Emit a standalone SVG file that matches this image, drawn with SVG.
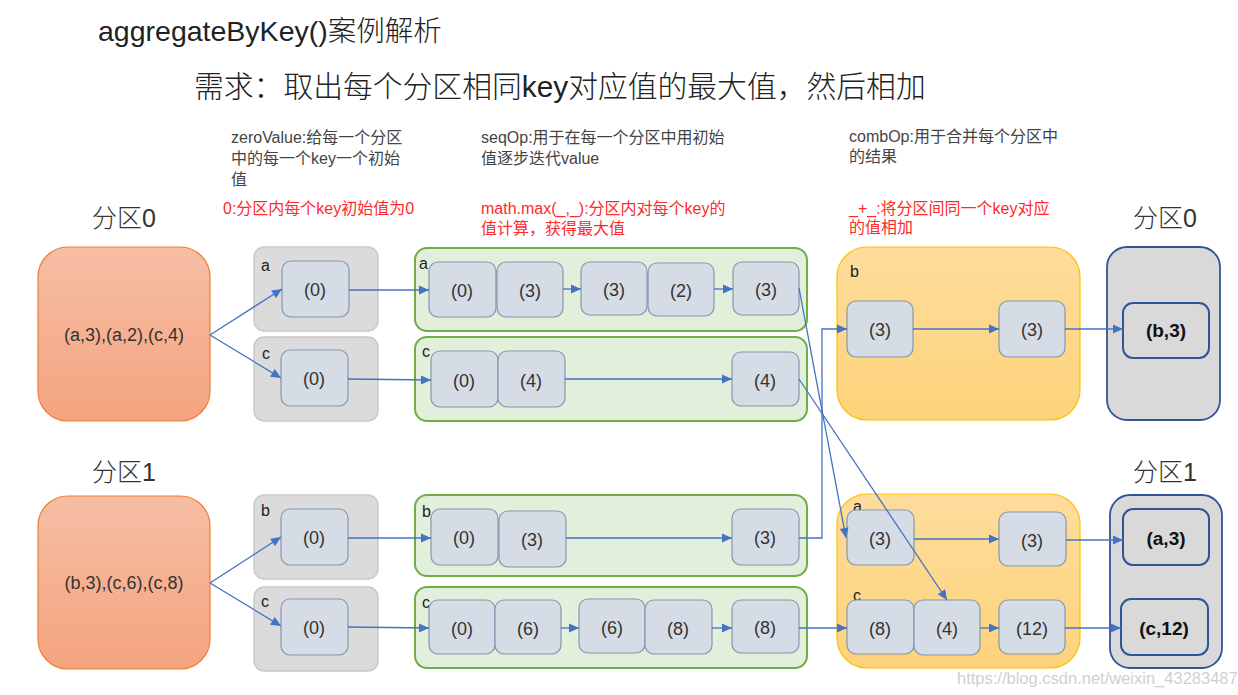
<svg xmlns="http://www.w3.org/2000/svg" width="1238" height="695" viewBox="0 0 1238 695">
<defs>
<linearGradient id="og" x1="0" y1="0" x2="0" y2="1"><stop offset="0" stop-color="#f6bea4"/><stop offset="1" stop-color="#f4a47f"/></linearGradient>
<linearGradient id="yg" x1="0" y1="0" x2="0" y2="1"><stop offset="0" stop-color="#fedc9c"/><stop offset="1" stop-color="#fdd37a"/></linearGradient>
<marker id="ah" viewBox="0 0 10 10" refX="10" refY="5" markerWidth="11" markerHeight="10" markerUnits="userSpaceOnUse" orient="auto"><path d="M0,0.5 L10,5 L0,9.5 z" fill="#4472c4"/></marker>
<style>
text{font-family:"Liberation Sans","Noto Sans CJK SC",sans-serif;}
.t{font-size:28.5px;fill:#222;font-weight:300}
.st{font-size:29.8px;fill:#222;font-weight:300}
.an{font-size:16px;fill:#444}
.red{font-size:16px;fill:#ff2a2a}
.part{font-size:25px;fill:#333;font-weight:300}
.src{fill:url(#og);stroke:#ed7d31;stroke-width:1.2}
.gray{fill:#dbdbdb;stroke:#c9c9c9;stroke-width:1.5}
.green{fill:#e2efda;stroke:#70ad47;stroke-width:2}
.yel{fill:url(#yg);stroke:#ffc000;stroke-width:1.2}
.res{fill:#d9d9d9;stroke:#2f5597;stroke-width:1.8}
.n{fill:#d6dce5;stroke:#8497b0;stroke-width:1.2}
.rn{fill:#d9d9d9;stroke:#2f5597;stroke-width:2}
.v{font-size:18px;fill:#333;text-anchor:middle;dominant-baseline:central}
.vb{font-size:19px;fill:#111;font-weight:bold;text-anchor:middle;dominant-baseline:central}
.k{font-size:16px;fill:#222}
.c{fill:none;stroke:#4472c4;stroke-width:1.3;marker-end:url(#ah)}
.wm{font-size:16.5px;fill:#d0d0d0}
</style>
</defs>
<rect width="1238" height="695" fill="#fff"/>

<g id="titles">
<text class="t" x="98" y="41">aggregateByKey()案例解析</text>
<text class="st" x="194" y="97">需求：取出每个分区相同key对应值的最大值，然后相加</text>
<text class="an" x="231" y="143">zeroValue:给每一个分区</text>
<text class="an" x="231" y="164">中的每一个key一个初始</text>
<text class="an" x="231" y="185">值</text>
<text class="an" x="481" y="143">seqOp:用于在每一个分区中用初始</text>
<text class="an" x="481" y="164">值逐步迭代value</text>
<text class="an" x="849" y="142">combOp:用于合并每个分区中</text>
<text class="an" x="849" y="162">的结果</text>
<text class="red" x="223" y="214">0:分区内每个key初始值为0</text>
<text class="red" x="481" y="214">math.max(_,_):分区内对每个key的</text>
<text class="red" x="481" y="234">值计算，获得最大值</text>
<text class="red" x="849" y="214">_+_:将分区间同一个key对应</text>
<text class="red" x="849" y="233">的值相加</text>
<text class="part" x="92" y="227">分区0</text>
<text class="part" x="1133" y="227">分区0</text>
<text class="part" x="92" y="481">分区1</text>
<text class="part" x="1133" y="481">分区1</text>
</g>

<g id="p0-source"><rect class="src" x="38" y="247" width="172" height="174" rx="30"/><text class="v" x="124" y="335">(a,3),(a,2),(c,4)</text></g>
<g id="p1-source"><rect class="src" x="38" y="496" width="172" height="173" rx="30"/><text class="v" x="124" y="583">(b,3),(c,6),(c,8)</text></g>

<g id="p0-zero-a"><rect class="gray" x="254" y="247" width="124" height="84" rx="10"/><text class="k" x="261" y="271">a</text>
<rect class="n" x="282" y="261" width="67" height="56" rx="9"/><text class="v" x="315" y="290">(0)</text></g>
<g id="p0-zero-c"><rect class="gray" x="254" y="337" width="124" height="84" rx="10"/><text class="k" x="262" y="359">c</text>
<rect class="n" x="281" y="350" width="67" height="56" rx="9"/><text class="v" x="314" y="379">(0)</text></g>
<g id="p1-zero-b"><rect class="gray" x="254" y="495" width="124" height="84" rx="10"/><text class="k" x="261" y="516">b</text>
<rect class="n" x="281" y="509" width="67" height="56" rx="9"/><text class="v" x="314" y="538">(0)</text></g>
<g id="p1-zero-c"><rect class="gray" x="254" y="587" width="124" height="84" rx="10"/><text class="k" x="261" y="607">c</text>
<rect class="n" x="281" y="599" width="67" height="56" rx="9"/><text class="v" x="314" y="628">(0)</text></g>

<g id="p0-seq-a"><rect class="green" x="415" y="248" width="392" height="83" rx="12"/><text class="k" x="419" y="269">a</text>
<rect class="n" x="429" y="262" width="67" height="55" rx="9"/><text class="v" x="462" y="291">(0)</text>
<rect class="n" x="497" y="262" width="66" height="55" rx="9"/><text class="v" x="530" y="291">(3)</text>
<rect class="n" x="581" y="262" width="66" height="53" rx="9"/><text class="v" x="614" y="290">(3)</text>
<rect class="n" x="648" y="263" width="66" height="53" rx="9"/><text class="v" x="681" y="291">(2)</text>
<rect class="n" x="733" y="262" width="66" height="53" rx="9"/><text class="v" x="766" y="290">(3)</text></g>
<g id="p0-seq-c"><rect class="green" x="415" y="337" width="392" height="84" rx="12"/><text class="k" x="422" y="357">c</text>
<rect class="n" x="431" y="351" width="67" height="56" rx="9"/><text class="v" x="464" y="381">(0)</text>
<rect class="n" x="498" y="351" width="67" height="56" rx="9"/><text class="v" x="531" y="381">(4)</text>
<rect class="n" x="732" y="352" width="67" height="54" rx="9"/><text class="v" x="765" y="381">(4)</text></g>
<g id="p1-seq-b"><rect class="green" x="415" y="495" width="392" height="81" rx="12"/><text class="k" x="422" y="517">b</text>
<rect class="n" x="431" y="509" width="67" height="56" rx="9"/><text class="v" x="464" y="538">(0)</text>
<rect class="n" x="499" y="511" width="67" height="56" rx="9"/><text class="v" x="532" y="540">(3)</text>
<rect class="n" x="732" y="509" width="67" height="56" rx="9"/><text class="v" x="765" y="538">(3)</text></g>
<g id="p1-seq-c"><rect class="green" x="415" y="587" width="392" height="81" rx="12"/><text class="k" x="422" y="608">c</text>
<rect class="n" x="429" y="600" width="66" height="54" rx="9"/><text class="v" x="462" y="629">(0)</text>
<rect class="n" x="495" y="600" width="66" height="54" rx="9"/><text class="v" x="528" y="629">(6)</text>
<rect class="n" x="579" y="599" width="66" height="54" rx="9"/><text class="v" x="612" y="628">(6)</text>
<rect class="n" x="645" y="600" width="67" height="54" rx="9"/><text class="v" x="678" y="629">(8)</text>
<rect class="n" x="732" y="600" width="67" height="53" rx="9"/><text class="v" x="765" y="628">(8)</text></g>

<g id="comb-b"><rect class="yel" x="837" y="247" width="243" height="173" rx="30"/><text class="k" x="850" y="277">b</text>
<rect class="n" x="847" y="301" width="66" height="56" rx="9"/><text class="v" x="880" y="330">(3)</text>
<rect class="n" x="999" y="301" width="66" height="56" rx="9"/><text class="v" x="1032" y="330">(3)</text></g>
<g id="comb-ac"><rect class="yel" x="837" y="494" width="243" height="174" rx="30"/><text class="k" x="853" y="512">a</text>
<rect class="n" x="847" y="510" width="67" height="55" rx="9"/><text class="v" x="880" y="539">(3)</text>
<rect class="n" x="999" y="512" width="67" height="54" rx="9"/><text class="v" x="1032" y="541">(3)</text>
<text class="k" x="853" y="601">c</text>
<rect class="n" x="847" y="600" width="67" height="54" rx="9"/><text class="v" x="880" y="629">(8)</text>
<rect class="n" x="914" y="600" width="66" height="55" rx="9"/><text class="v" x="947" y="629">(4)</text>
<rect class="n" x="999" y="600" width="66" height="54" rx="9"/><text class="v" x="1032" y="629">(12)</text></g>

<g id="result-0"><rect class="res" x="1107" y="247" width="113" height="173" rx="20"/>
<rect class="rn" x="1123" y="303" width="86" height="55" rx="10"/><text class="vb" x="1166" y="330">(b,3)</text></g>
<g id="result-1"><rect class="res" x="1110" y="495" width="112" height="173" rx="20"/>
<rect class="rn" x="1123" y="509" width="86" height="56" rx="10"/><text class="vb" x="1166" y="538">(a,3)</text>
<rect class="rn" x="1121" y="599" width="87" height="56" rx="10"/><text class="vb" x="1164" y="628">(c,12)</text></g>

<g id="connectors">
<path class="c" d="M210,335 L282,289"/>
<path class="c" d="M210,335 L281,378"/>
<path class="c" d="M210,583 L281,537"/>
<path class="c" d="M210,583 L281,626"/>
<path class="c" d="M349,290 L429,290"/>
<path class="c" d="M348,379 L431,380"/>
<path class="c" d="M348,538 L431,538"/>
<path class="c" d="M348,627 L429,628"/>
<path class="c" d="M563,289 L581,289"/>
<path class="c" d="M714,289 L733,289"/>
<path class="c" d="M565,379 L732,379"/>
<path class="c" d="M566,538 L732,538"/>
<path class="c" d="M561,628 L579,628"/>
<path class="c" d="M712,628 L732,628"/>
<path class="c" d="M799,288 L846,538"/>
<path class="c" d="M799,379 L947,600"/>
<path class="c" d="M799,538 L822,538 L822,329 L847,329"/>
<path class="c" d="M799,628 L847,628"/>
<path class="c" d="M913,329 L999,329"/>
<path class="c" d="M914,539 L999,539"/>
<path class="c" d="M980,628 L999,628"/>
<path class="c" d="M1065,329 L1123,329"/>
<path class="c" d="M1066,540 L1123,540"/>
<path class="c" d="M1065,628 L1121,628"/>
</g>

<text class="wm" x="957" y="684">https://blog.csdn.net/weixin_43283487</text>
</svg>
